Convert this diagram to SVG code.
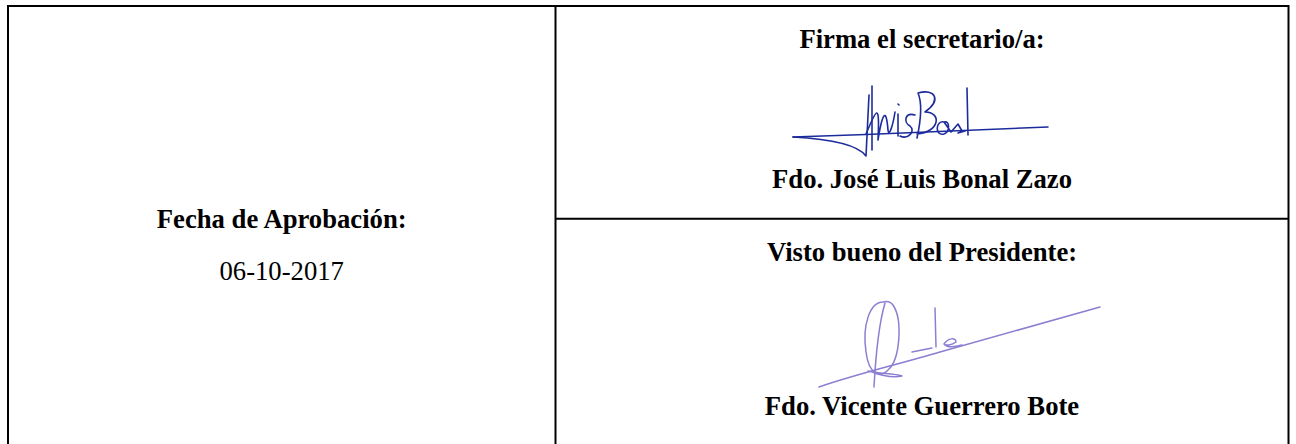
<svg xmlns="http://www.w3.org/2000/svg" width="1296" height="444" viewBox="0 0 1296 444">
  <style>
    .t { font-family: "Liberation Serif", "Times New Roman", serif; font-size: 26.67px; fill: #000; text-anchor: middle; }
    .b { font-weight: bold; }
    .grid { stroke: #000; stroke-width: 2; fill: none; }
    .sig1 { stroke: #1d2c9c; stroke-width: 1.6; fill: none; stroke-linecap: round; stroke-linejoin: round; }
    .sig2 { stroke: #8b7fd2; stroke-width: 1.5; fill: none; stroke-linecap: round; stroke-linejoin: round; }
  </style>
  <rect width="1296" height="444" fill="#fff"/>
  <g id="table-lines">
    <rect class="grid" x="8" y="6" width="1280.5" height="442"/>
    <line class="grid" x1="555.5" y1="6" x2="555.5" y2="448"/>
    <line class="grid" x1="555.5" y1="218.7" x2="1288.5" y2="218.7"/>
  </g>
  <g id="fecha">
    <text class="t b" x="281.7" y="228">Fecha de Aprobación:</text>
    <text class="t" x="281.7" y="280">06-10-2017</text>
  </g>
  <g id="secretario">
    <text class="t b" x="922" y="48">Firma el secretario/a:</text>
    <g id="firma-secretario" class="sig1">
      <path d="M793 137 C 820 136, 845 135, 866 134.5 L 1048 127"/>
      <path d="M793 137 C 830 139, 858 145, 866 156 L 869 95"/>
      <path d="M872 150 L 872 86"/>
      <path d="M866 134 C 876 110, 880 100, 878 140 C 882 115, 886 105, 888 130 C 889 138, 893 125, 895 112"/>
      <path d="M898 114 L 898 136 M 898 104 L 899 105"/>
      <path d="M915 115 C 905 112, 903 122, 910 126 C 916 131, 908 140, 900 136"/>
      <path d="M917 138 C 922 115, 921 100, 918 93 C 935 88, 942 100, 925 112 C 942 112, 940 132, 917 134"/>
      <path d="M944 122 C 936 120, 934 136, 944 134 C 950 132, 950 120, 944 122 L 951 132 L 958 124 L 962 131 L 958 133 L 965 131"/>
      <path d="M967 88 L 968 135"/>
    </g>
    <text class="t b" x="922" y="188">Fdo. José Luis Bonal Zazo</text>
  </g>
  <g id="presidente">
    <text class="t b" x="922" y="261">Visto bueno del Presidente:</text>
    <g id="firma-presidente" class="sig2">
      <path d="M819 387 C 860 373, 900 364, 940 352 L 1100 307"/>
      <path d="M883 302 C 870 302, 862 325, 866 352 C 869 375, 880 378, 888 370 C 900 360, 903 320, 893 305 C 890 301, 886 301, 883 302 Z"/>
      <path d="M885 303 C 880 320, 876 350, 874 387"/>
      <path d="M868 371 C 880 374, 893 373, 902 376 C 893 378, 880 375, 872 372"/>
      <path d="M912 352 L 932 348"/>
      <path d="M935 308 L 936 347"/>
      <path d="M944 344 C 948 338, 956 337, 956 342 C 952 345, 946 346, 944 344 C 947 348, 955 347, 962 345"/>
    </g>
    <text class="t b" x="922" y="415">Fdo. Vicente Guerrero Bote</text>
  </g>
</svg>
